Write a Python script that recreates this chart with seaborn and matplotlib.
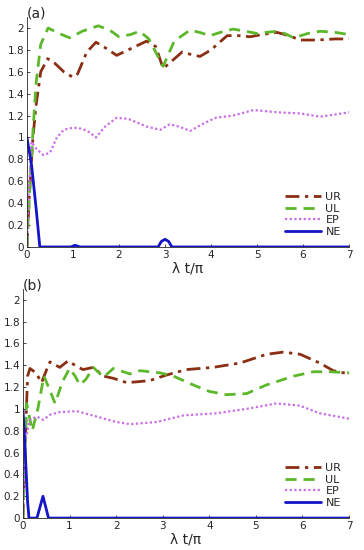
import matplotlib
matplotlib.use("Agg")
import matplotlib.pyplot as plt
import numpy as np
import pandas as pd
import seaborn as sns

# ---- panel (a) ----
ur_a_t = [0, 0.05, 0.13, 0.2, 0.3, 0.45, 0.6, 0.8, 1.0, 1.1, 1.3, 1.5, 1.7, 1.95, 2.2, 2.6, 2.8, 2.96,
          3.1, 3.37, 3.55, 3.76, 4.0, 4.35, 4.6, 4.85, 5.1, 5.43, 5.7, 5.93, 6.3, 6.7, 7.0]
ur_a_v = [0, 0.45, 1.0, 1.3, 1.6, 1.72, 1.68, 1.6, 1.55, 1.58, 1.78, 1.87, 1.82, 1.75, 1.8, 1.88, 1.83, 1.63,
          1.68, 1.78, 1.76, 1.74, 1.8, 1.93, 1.93, 1.92, 1.94, 1.96, 1.93, 1.89, 1.89, 1.9, 1.9]
ul_a_t = [0, 0.05, 0.13, 0.2, 0.3, 0.46, 0.7, 0.93, 1.2, 1.55, 1.8, 2.0, 2.25, 2.45, 2.65, 2.96, 3.2,
          3.54, 3.75, 3.98, 4.2, 4.48, 4.75, 5.0, 5.2, 5.43, 5.6, 5.8, 6.1, 6.37, 6.7, 7.0]
ul_a_v = [0, 0.45, 1.05, 1.5, 1.85, 2.0, 1.95, 1.91, 1.97, 2.02, 1.98, 1.92, 1.94, 1.97, 1.9, 1.65, 1.88,
          1.98, 1.96, 1.93, 1.96, 1.99, 1.97, 1.95, 1.96, 1.97, 1.95, 1.91, 1.95, 1.97, 1.96, 1.94]
ep_a_t = [0, 0.04, 0.1, 0.2, 0.35, 0.5, 0.65, 0.8, 1.0, 1.2, 1.35, 1.5, 1.7, 1.95, 2.2, 2.6, 2.9, 3.1,
          3.3, 3.55, 3.8, 4.1, 4.48, 4.92, 5.2, 5.43, 5.93, 6.37, 6.7, 7.0]
ep_a_v = [0, 0.5, 0.96, 0.9, 0.84, 0.86, 1.0, 1.07, 1.09, 1.08, 1.05, 1.0, 1.1, 1.18, 1.17, 1.1, 1.07, 1.12,
          1.1, 1.06, 1.12, 1.18, 1.2, 1.25, 1.24, 1.23, 1.22, 1.19, 1.21, 1.23]
ne_a_t = [0, 0.1, 0.2, 0.28, 0.95, 1.05, 1.15, 2.85, 2.92, 3.0, 3.08, 3.15, 7.0]
ne_a_v = [1, 0.75, 0.35, 0, 0, 0.015, 0, 0, 0.05, 0.07, 0.05, 0, 0]

# ---- panel (b) ----
ur_b_t = [0, 0.05, 0.1, 0.15, 0.28, 0.4, 0.5, 0.58, 0.79, 0.97, 1.15, 1.29, 1.51, 1.73, 1.94, 2.23, 2.5,
          2.73, 3.08, 3.51, 4.08, 4.66, 5.23, 5.59, 5.95, 6.37, 6.66, 7.0]
ur_b_v = [0, 0.7, 1.3, 1.37, 1.33, 1.24, 1.35, 1.43, 1.38, 1.44, 1.39, 1.36, 1.38, 1.30, 1.28, 1.24, 1.25,
          1.26, 1.31, 1.36, 1.38, 1.42, 1.5, 1.52, 1.5, 1.42, 1.35, 1.32]
ul_b_t = [0, 0.04, 0.08, 0.2, 0.32, 0.45, 0.55, 0.69, 0.85, 1.0, 1.12, 1.22, 1.35, 1.51, 1.73, 1.94, 2.3,
          2.51, 2.94, 3.23, 3.65, 4.0, 4.37, 4.8, 5.23, 5.81, 6.23, 6.6, 7.0]
ul_b_v = [0, 0.6, 1.05, 0.8, 1.0, 1.3, 1.2, 1.05, 1.25, 1.37, 1.3, 1.22, 1.27, 1.38, 1.29, 1.37, 1.32,
          1.35, 1.33, 1.3, 1.22, 1.16, 1.13, 1.14, 1.22, 1.30, 1.34, 1.34, 1.33]
ep_b_t = [0, 0.05, 0.15, 0.3, 0.43, 0.6, 0.79, 1.15, 1.58, 2.0, 2.3, 2.87, 3.44, 4.16, 4.8, 5.44, 5.94,
          6.37, 7.0]
ep_b_v = [0, 0.7, 0.9, 0.93, 0.9, 0.95, 0.97, 0.98, 0.93, 0.88, 0.86, 0.88, 0.94, 0.96, 1.0, 1.05, 1.03,
          0.96, 0.91]
ne_b_t = [0, 0.05, 0.1, 0.13, 0.3, 0.43, 0.55, 7.0]
ne_b_v = [1, 0.6, 0.15, 0, 0, 0.2, 0, 0]

labels = ["UR", "UL", "EP", "NE"]
x_ticks = [0, 1, 2, 3, 4, 5, 6, 7]
y_ticks = [0, 0.2, 0.4, 0.6, 0.8, 1, 1.2, 1.4, 1.6, 1.8, 2]
y_tick_labels = ["0", "0.2", "0.4", "0.6", "0.8", "1", "1.2", "1.4", "1.6", "1.8", "2"]

sns.set_style("ticks")
plt.rcParams["font.family"] = ["DejaVu Sans"]

styles = {
    "UR": dict(color="#8a2f14", lw=2.0, ls=(0, (5, 2, 1.2, 2))),
    "UL": dict(color="#5cb82a", lw=2.0, ls=(0, (4, 2.5))),
    "EP": dict(color="#c86ee6", lw=1.6, ls=(0, (1, 1.1))),
    "NE": dict(color="#1414c8", lw=2.0, ls="-"),
}


def draw_panel(ax, series, tag):
    for name, (t, v) in zip(labels, series):
        df = pd.DataFrame({"t": t, "v": v})
        st = styles[name]
        sns.lineplot(data=df, x="t", y="v", ax=ax, color=st["color"], linewidth=st["lw"],
                     linestyle=st["ls"], label=name, sort=False)
    ax.set_xlim(0, 7)
    ax.set_ylim(0, 2.1)
    ax.set_xticks(x_ticks)
    ax.set_yticks(y_ticks)
    ax.set_yticklabels(y_tick_labels)
    ax.tick_params(labelsize=7.5, length=2.5, width=0.6, direction="in", pad=2)
    ax.set_xlabel("λ t/π", fontsize=10, labelpad=1)
    ax.set_ylabel("")
    for s in ["top", "right"]:
        ax.spines[s].set_visible(False)
    for s in ["left", "bottom"]:
        ax.spines[s].set_linewidth(0.6)
    ax.text(0.0, 0.985, tag, transform=ax.transAxes, fontsize=10, ha="left", va="bottom")
    ax.legend(loc="lower right", bbox_to_anchor=(1.0, 0.01), frameon=False, fontsize=8,
              handlelength=3.2, labelspacing=0.15, handletextpad=0.4, borderpad=0.2)


fig = plt.figure(figsize=(3.64, 5.5), dpi=100)
ax_a = fig.add_axes([0.074, 0.551, 0.885, 0.418])
ax_b = fig.add_axes([0.063, 0.058, 0.896, 0.417])

draw_panel(ax_a, [(ur_a_t, ur_a_v), (ul_a_t, ul_a_v), (ep_a_t, ep_a_v), (ne_a_t, ne_a_v)], "(a)")
draw_panel(ax_b, [(ur_b_t, ur_b_v), (ul_b_t, ul_b_v), (ep_b_t, ep_b_v), (ne_b_t, ne_b_v)], "(b)")

fig.savefig("out.png", dpi=100)
